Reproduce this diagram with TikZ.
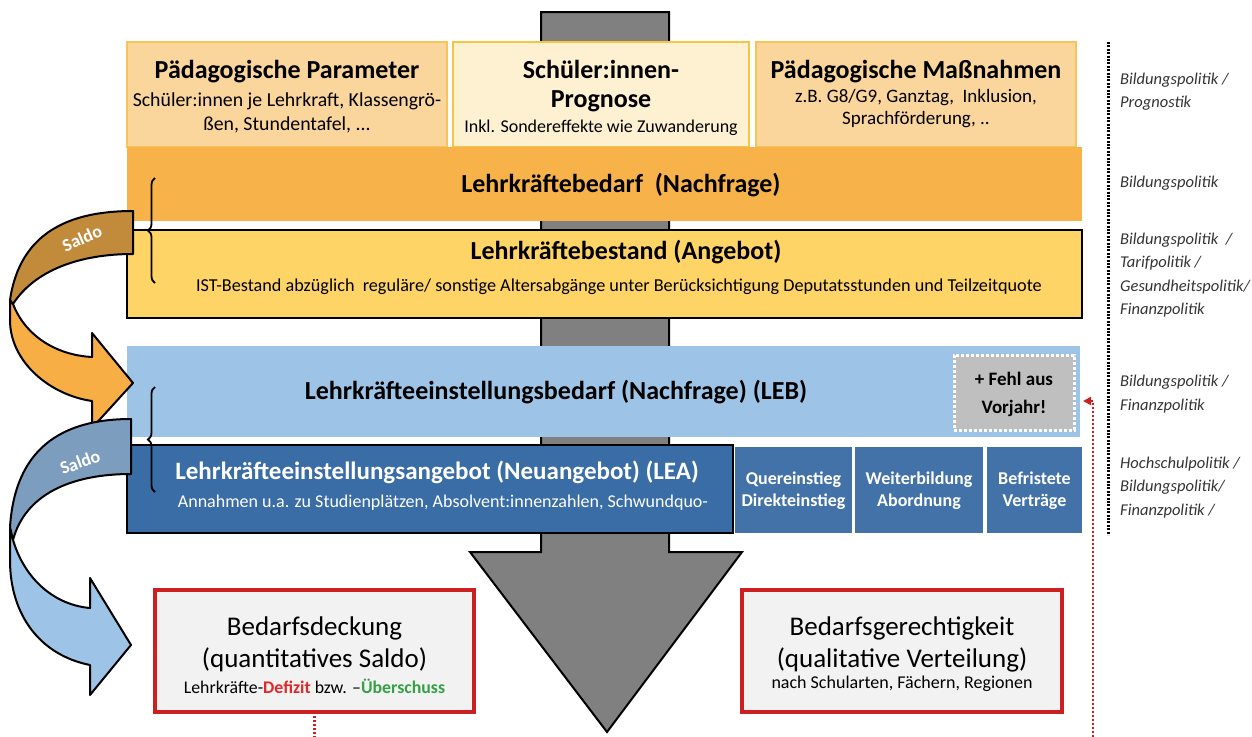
\documentclass[tikz,border=0pt]{standalone}
\usepackage{fontspec}
\setmainfont{Carlito}
\usetikzlibrary{arrows.meta,decorations.pathreplacing}
\definecolor{peach}{HTML}{FAD59C}
\definecolor{peachline}{HTML}{F8C45A}
\definecolor{cream}{HTML}{FEF1D1}
\definecolor{creamline}{HTML}{F6C544}
\definecolor{bedarfor}{HTML}{F8B24A}
\definecolor{bestandye}{HTML}{FED466}
\definecolor{lebblue}{HTML}{9DC3E6}
\definecolor{leablue}{HTML}{3A6DA5}
\definecolor{subblue}{HTML}{4272A8}
\definecolor{fehlgray}{HTML}{BFBFBF}
\definecolor{arrowgray}{HTML}{808080}
\definecolor{saldobrown}{HTML}{C28B3C}
\definecolor{saldoorange}{HTML}{F7AE45}
\definecolor{saldoblue}{HTML}{7D9DBF}
\definecolor{boxred}{HTML}{CC1F1F}
\definecolor{boxfill}{HTML}{F2F2F2}
\definecolor{defred}{HTML}{E02828}
\definecolor{uegreen}{HTML}{35A046}
\definecolor{polgray}{HTML}{333333}
\begin{document}
\begin{tikzpicture}[x=1pt,y=-1pt,
  plainbox/.style={inner sep=0pt, outer sep=0pt},
  topbox/.style={plainbox, line width=2pt},
  blackbox/.style={plainbox, draw=black, line width=2pt},
  redbox/.style={plainbox, draw=boxred, fill=boxfill, line width=3.5pt},
  subbox/.style={plainbox, fill=subblue, minimum height=86pt},
  titlefont/.style={font=\fontsize{26}{29}\selectfont\bfseries, align=center, inner sep=0pt},
  subfont/.style={font=\fontsize{19.8}{24}\selectfont, align=center, inner sep=0pt},
  smallfont/.style={font=\fontsize{18}{22}\selectfont, align=center, inner sep=0pt},
  bluetitle/.style={font=\fontsize{18}{22}\selectfont\bfseries, text=white, align=center, inner sep=0pt},
  redtitle/.style={font=\fontsize{27}{32}\selectfont, align=center, inner sep=0pt},
  polfont/.style={font=\fontsize{16.5}{23.5}\selectfont\itshape, text=polgray, anchor=west, align=left, inner sep=0pt},
  saldofont/.style={font=\fontsize{18}{20}\selectfont\bfseries, text=white, inner sep=0pt},
  bracestyle/.style={line width=1.8pt, decorate, decoration={brace, amplitude=7pt}},
  saldoedge/.style={draw=black, line width=2pt, line join=round},
  reddot/.style={draw=boxred, line width=2.5pt, dash pattern=on 2pt off 2pt, -{Triangle[length=8pt,width=8pt]}}
]
\useasboundingbox (0,0) rectangle (1252,736);

% big gray arrow
\draw[fill=arrowgray, line width=2pt, line join=miter]
  (541,12) -- (669,12) -- (669,552) -- (742,552) -- (607,732) -- (470,552) -- (541,552) -- cycle;

% top boxes
\node[topbox, fill=peach, draw=peachline, minimum width=320pt, minimum height=105pt] (par) at (287,94.5) {};
\node[topbox, fill=cream, draw=creamline, minimum width=296pt, minimum height=105pt] (prog) at (601,94.5) {};
\node[topbox, fill=peach, draw=peachline, minimum width=320pt, minimum height=105pt] (mass) at (916,94.5) {};
\node[titlefont] (partitle) at (287,72) {Pädagogische Parameter};
\node[subfont] (partext) at (287,113) {Schüler:innen je Lehrkraft, Klassengrö-\\ßen, Stundentafel, ...};
\node[titlefont] (progtitle) at (601,86.5) {Schüler:innen-\\Prognose};
\node[smallfont] (progtext) at (601,128) {Inkl. Sondereffekte wie Zuwanderung};
\node[font=\fontsize{26}{29}\selectfont\bfseries, inner sep=0pt] (masstitle) at (916,72) {Pädagogische Maßnahmen};
\node[font=\fontsize{19}{22}\selectfont, align=center, inner sep=0pt] (masstext) at (916,109) {z.B. G8/G9, Ganztag,\ \ Inklusion,\\Sprachförderung, ..};

% Lehrkräftebedarf
\node[plainbox, fill=bedarfor, minimum width=955pt, minimum height=74pt] (bedarf) at (604.5,184) {};
\node[titlefont] (bedarftitle) at (621,185) {Lehrkräftebedarf\ \ (Nachfrage)};

% Lehrkräftebestand
\node[blackbox, fill=bestandye, minimum width=955pt, minimum height=88pt] (bestand) at (604.5,274) {};
\node[titlefont] (bestandtitle) at (626,252) {Lehrkräftebestand (Angebot)};
\node[font=\fontsize{18.2}{20}\selectfont, inner sep=0pt] (bestandtext) at (619,287) {IST-Bestand abzüglich\ \ reguläre/ sonstige Altersabgänge unter Berücksichtigung Deputatsstunden und Teilzeitquote};

% LEB
\node[plainbox, fill=lebblue, minimum width=953pt, minimum height=91pt] (leb) at (603.5,391.5) {};
\node[titlefont] (lebtitle) at (556,392) {Lehrkräfteeinstellungsbedarf (Nachfrage) (LEB)};
\node[plainbox, fill=fehlgray, draw=white, line width=3pt, dash pattern=on 3pt off 2pt, minimum width=120pt, minimum height=75pt] (fehl) at (1014,392.5) {};
\node[font=\fontsize{19}{28}\selectfont\bfseries, align=center, inner sep=0pt] (fehltext) at (1014,394) {+ Fehl aus\\Vorjahr!};
\coordinate (lebin) at (1083,401);
\coordinate (redturn) at (1093,401);

% LEA
\node[blackbox, fill=leablue, minimum width=606pt, minimum height=88pt] (lea) at (430,489) {};
\node[font=\fontsize{25}{28}\selectfont\bfseries, text=white, inner sep=0pt] (leatitle) at (437,472) {Lehrkräfteeinstellungsangebot (Neuangebot) (LEA)};
\node[font=\fontsize{18}{20}\selectfont, text=white, inner sep=0pt] (leatext) at (443,503) {Annahmen u.a. zu Studienplätzen, Absolvent:innenzahlen, Schwundquo-};
\node[subbox, minimum width=117pt] (quer) at (793.5,490) {};
\node[subbox, minimum width=128pt] (weiter) at (919,490) {};
\node[subbox, minimum width=95pt] (befr) at (1034.5,490) {};
\node[bluetitle] (quertext) at (793.5,491) {Quereinstieg\\Direkteinstieg};
\node[bluetitle] (weitertext) at (919,491) {Weiterbildung\\Abordnung};
\node[bluetitle] (befrtext) at (1034.5,491) {Befristete\\Verträge};

% bottom boxes
\node[redbox, minimum width=319pt, minimum height=122pt] (ded) at (314.5,651) {};
\node[redtitle] (dedtitle) at (314.5,644) {Bedarfsdeckung\\(quantitatives Saldo)};
\node[font=\fontsize{17.8}{18}\selectfont, inner sep=0pt] (dedtext) at (314.5,686) {Lehrkräfte-\textcolor{defred}{\textbf{Defizit}} bzw. –\textcolor{uegreen}{\textbf{Überschuss}}};
\node[redbox, minimum width=320pt, minimum height=122pt] (ger) at (902,651) {};
\node[redtitle] (gertitle) at (902,644) {Bedarfsgerechtigkeit\\(qualitative Verteilung)};
\node[font=\fontsize{18}{18}\selectfont, inner sep=0pt] (gertext) at (902,684) {nach Schularten, Fächern, Regionen};

% red dotted connector
\draw[reddot] (ded.south) -- ++(0,45) -| (redturn) -- (lebin);

% braces
\draw[bracestyle] (155,283) -- (155,178);
\draw[bracestyle] (155,492) -- (155,387);

% Saldo arrow 1
\draw[saldoedge, fill=saldoorange]
  (13,304) .. controls (25,335) and (55,355) .. (92,357) -- (92,333) -- (133,383) -- (92,428) -- (92,401)
  .. controls (50,395) and (10,362) .. (10,320) -- (10,300) -- cycle;
\draw[saldoedge, fill=saldobrown]
  (133,211) -- (133,254) .. controls (80,254) and (35,270) .. (13,304)
  -- (10,300) .. controls (20,232) and (70,211) .. (133,211) -- cycle;
\node[saldofont, rotate=24] (saldo1) at (82,238) {Saldo};

% Saldo arrow 2
\draw[saldoedge, fill=lebblue]
  (13,540) .. controls (25,580) and (55,605) .. (90,608) -- (90,578) -- (131,645) -- (90,695) -- (90,665)
  .. controls (40,655) and (10,615) .. (10,560) -- (10,527) -- cycle;
\draw[saldoedge, fill=saldoblue]
  (131,419) -- (131,474) .. controls (70,474) and (25,495) .. (13,540)
  -- (10,527) .. controls (15,450) and (60,419) .. (131,419) -- cycle;
\node[saldofont, rotate=20] (saldo2) at (80,462) {Saldo};

% dotted divider
\draw[line width=3pt, dash pattern=on 2pt off 1.4pt] (1108,42) -- (1108,535);

% policy labels
\node[polfont] (pol1) at (1120,91.5) {Bildungspolitik /\\Prognostik};
\node[polfont] (pol2) at (1120,183) {Bildungspolitik};
\node[polfont] (pol3) at (1120,275) {Bildungspolitik\ \ /\\Tarifpolitik /\\Gesundheitspolitik/\\Finanzpolitik};
\node[polfont] (pol4) at (1120,394) {Bildungspolitik /\\Finanzpolitik};
\node[polfont] (pol5) at (1120,487.5) {Hochschulpolitik /\\Bildungspolitik/\\Finanzpolitik /};
\end{tikzpicture}
\end{document}
